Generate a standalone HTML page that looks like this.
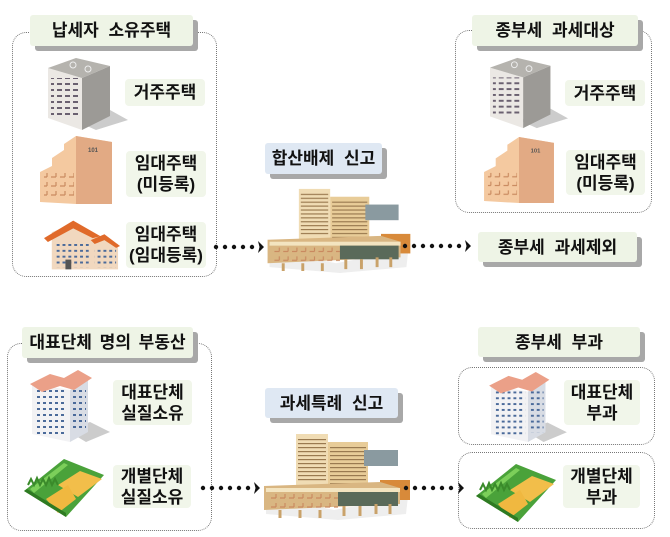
<!DOCTYPE html>
<html><head><meta charset="utf-8"><style>
*{margin:0;padding:0;box-sizing:border-box}
body{width:670px;height:537px;background:#fff;position:relative;overflow:hidden;font-family:"Liberation Sans","Noto Sans CJK KR",sans-serif}
.box{position:absolute;border:1.5px dotted #777;border-radius:14px}
.t{position:absolute;background:#eef4e6;font-weight:bold;font-size:17px;word-spacing:5px;color:#111;display:flex;align-items:center;justify-content:center;text-align:center;line-height:19px;border-radius:3px}
.t.s{box-shadow:5px 5px 0 #a8a8a8}
.t.b{background:#dfe8f3}
.l{position:absolute;background:#f1f6ea;font-weight:bold;font-size:17px;color:#111;display:flex;align-items:center;justify-content:center;text-align:center;line-height:21px;border-radius:4px}
svg{position:absolute;left:0;top:0}
</style></head><body>
<div class="box" style="left:12px;top:32px;width:205px;height:245px"></div>
<div class="box" style="left:455px;top:30px;width:197px;height:183px"></div>
<div class="box" style="left:7px;top:343px;width:205px;height:188px"></div>
<div class="box" style="left:458px;top:367px;width:197px;height:78px"></div>
<div class="box" style="left:458px;top:452px;width:197px;height:77px"></div>

<svg width="670" height="537" viewBox="0 0 670 537">
<defs>
<pattern id="wg" width="8" height="6" patternUnits="userSpaceOnUse"><rect x="1" y="1" width="5" height="2" fill="#6a6070"/></pattern>
<pattern id="wo" width="9" height="9" patternUnits="userSpaceOnUse"><path d="M2 5h5M7 1v4" stroke="#c98a60" stroke-width="1.2" fill="none"/></pattern>
<pattern id="wb" width="6" height="6" patternUnits="userSpaceOnUse"><rect x="1" y="2" width="3" height="2" fill="#4a6a9a"/></pattern>
<pattern id="wh" width="6" height="4" patternUnits="userSpaceOnUse"><rect x="0" y="1" width="6" height="1.2" fill="#9a7a50"/></pattern>
<symbol id="gray" viewBox="0 0 80 72"><polygon points="30,64 62,52 80,62 48,72" fill="#ccc"/><polygon points="0,10 34,20 34,72 0,60" fill="#ebe8e4"/><rect x="3" y="20" width="28" height="40" fill="url(#wg)"/><polygon points="34,20 62,8 62,58 34,72" fill="#9c9a96"/><polygon points="0,10 28,0 62,8 34,20" fill="#b5b3ae"/><circle cx="25" cy="7" r="3" fill="none" stroke="#eee"/><circle cx="40" cy="11" r="3" fill="none" stroke="#eee"/></symbol>
<symbol id="orange" viewBox="0 0 72 68"><polygon points="0,36 12,30 12,22 24,14 24,8 36,0 72,6 72,68 36,68 0,66" fill="#f4c9a0"/><rect x="4" y="36" width="30" height="28" fill="url(#wo)"/><polygon points="36,0 72,6 72,68 36,68" fill="#e2aa84"/><text x="48" y="16" font-size="6" font-weight="bold" fill="#555" font-family="Liberation Sans">101</text></symbol>
<symbol id="house" viewBox="0 0 78 52"><polygon points="8,14 32,4 52,16 56,20 76,26 76,52 8,52" fill="#f1d8bf"/><polygon points="0,20 30,2 58,18 50,20 30,10 4,24" fill="#e06a2a"/><polygon points="48,22 62,16 78,28 74,30 62,22 52,26" fill="#e06a2a"/><rect x="12" y="26" width="34" height="24" fill="url(#wb)"/><rect x="52" y="30" width="22" height="20" fill="url(#wb)"/><rect x="22" y="42" width="6" height="10" fill="#555"/></symbol>
<symbol id="pink" viewBox="0 0 80 72"><polygon points="36,60 60,52 80,62 56,72" fill="#ccc"/><polygon points="2,14 40,20 40,72 2,64" fill="#f2f2f4"/><polygon points="40,20 58,10 58,62 40,72" fill="#d8dce4"/><rect x="5" y="20" width="32" height="46" fill="url(#wb)"/><rect x="42" y="18" width="14" height="44" fill="url(#wb)"/><polygon points="0,14 20,4 34,8 48,0 62,8 44,20 30,16 12,22" fill="#eba088"/></symbol>
<symbol id="field" viewBox="0 0 80 62"><polygon points="0,36 40,4 80,20 42,62" fill="#4aa23a"/><polygon points="6,34 40,8 44,10 10,38" fill="#7ccf5a"/><polygon points="34,30 56,16 78,24 54,42" fill="#f2be4a"/><polygon points="22,44 44,30 52,44 34,58" fill="#f0b840"/><path d="M4 30l3-6 3 6 3-7 3 7 3-6 3 6 3-7 3 7 3-6 3 6" stroke="#3a8a2a" stroke-width="2" fill="none"/><polygon points="0,36 42,62 42,58 3,34" fill="#2e7a22"/></symbol>
<symbol id="hall" viewBox="0 0 150 90"><polygon points="6,66 74,80 148,66 146,84 78,90 6,84" fill="#eee"/><rect x="36" y="4" width="32" height="52" fill="#f0dcb4"/><rect x="38" y="8" width="28" height="44" fill="url(#wh)"/><rect x="68" y="12" width="40" height="50" fill="#e8cc98"/><rect x="70" y="16" width="36" height="40" fill="url(#wh)"/><rect x="104" y="20" width="34" height="16" fill="#8a9aa0"/><rect x="120" y="50" width="30" height="20" fill="#d88a3a"/><polygon points="4,56 120,52 140,58 140,74 4,80" fill="#d9b682"/><rect x="6" y="58" width="134" height="4" fill="#f3e4c0"/><rect x="8" y="62" width="70" height="18" fill="url(#wo)"/><rect x="78" y="62" width="60" height="14" fill="#5a6a5a"/><path d="M20 80v8M40 80v8M60 80v8M84 76v10M100 76v10M116 74v10M130 74v10" stroke="#c9a26a" stroke-width="3"/></symbol>
</defs>

<use href="#gray" x="48" y="58" width="80" height="72"/>
<use href="#orange" x="40" y="136" width="72" height="68"/>
<use href="#house" x="44" y="218" width="76" height="52"/>
<use href="#gray" x="490" y="57" width="78" height="72"/>
<use href="#orange" x="483" y="137" width="72" height="66"/>
<use href="#hall" x="262" y="185" width="150" height="88"/>
<use href="#hall" x="260" y="430" width="150" height="90"/>
<use href="#pink" x="30" y="370" width="80" height="72"/>
<use href="#field" x="24" y="455" width="80" height="62"/>
<use href="#pink" x="488" y="372" width="80" height="70"/>
<use href="#field" x="476" y="460" width="80" height="62"/>

<g fill="#111">
<circle cx="216" cy="247" r="2.2"/><circle cx="225" cy="247" r="2.2"/><circle cx="234" cy="247" r="2.2"/><circle cx="243" cy="247" r="2.2"/><circle cx="252" cy="247" r="2.2"/><path d="M258 241l6 6-6 6 1.5-6z"/>
<circle cx="405" cy="246" r="2.2"/><circle cx="414" cy="246" r="2.2"/><circle cx="423" cy="246" r="2.2"/><circle cx="432" cy="246" r="2.2"/><circle cx="441" cy="246" r="2.2"/><circle cx="450" cy="246" r="2.2"/><circle cx="459" cy="246" r="2.2"/><path d="M465 240l6 6-6 6 1.5-6z"/>
<circle cx="203" cy="488" r="2.2"/><circle cx="212" cy="488" r="2.2"/><circle cx="221" cy="488" r="2.2"/><circle cx="230" cy="488" r="2.2"/><circle cx="239" cy="488" r="2.2"/><circle cx="248" cy="488" r="2.2"/><path d="M254 482l6 6-6 6 1.5-6z"/>
<circle cx="406" cy="488" r="2.2"/><circle cx="415" cy="488" r="2.2"/><circle cx="424" cy="488" r="2.2"/><circle cx="433" cy="488" r="2.2"/><circle cx="442" cy="488" r="2.2"/><circle cx="451" cy="488" r="2.2"/><path d="M458 482l6 6-6 6 1.5-6z"/>
</g>
</svg>

<div class="t s" style="left:30px;top:15px;width:163px;height:31px">납세자 소유주택</div>
<div class="t s" style="left:472px;top:15px;width:166px;height:31px">종부세 과세대상</div>
<div class="t s b" style="left:265px;top:143px;width:117px;height:31px">합산배제 신고</div>
<div class="t s" style="left:478px;top:232px;width:159px;height:30px">종부세 과세제외</div>
<div class="t s" style="left:22px;top:327px;width:171px;height:31px;word-spacing:3px">대표단체 명의 부동산</div>
<div class="t s b" style="left:265px;top:388px;width:133px;height:30px">과세특례 신고</div>
<div class="t s" style="left:478px;top:327px;width:162px;height:30px">종부세 부과</div>

<div class="l" style="left:125px;top:79px;width:80px;height:27px">거주주택</div>
<div class="l" style="left:126px;top:151px;width:80px;height:46px">임대주택<br>(미등록)</div>
<div class="l" style="left:126px;top:222px;width:80px;height:46px">임대주택<br>(임대등록)</div>
<div class="l" style="left:565px;top:80px;width:80px;height:26px">거주주택</div>
<div class="l" style="left:566px;top:150px;width:79px;height:45px">임대주택<br>(미등록)</div>
<div class="l" style="left:113px;top:380px;width:79px;height:45px">대표단체<br>실질소유</div>
<div class="l" style="left:113px;top:465px;width:78px;height:43px">개별단체<br>실질소유</div>
<div class="l" style="left:564px;top:380px;width:76px;height:45px">대표단체<br>부과</div>
<div class="l" style="left:563px;top:465px;width:77px;height:43px">개별단체<br>부과</div>
</body></html>
